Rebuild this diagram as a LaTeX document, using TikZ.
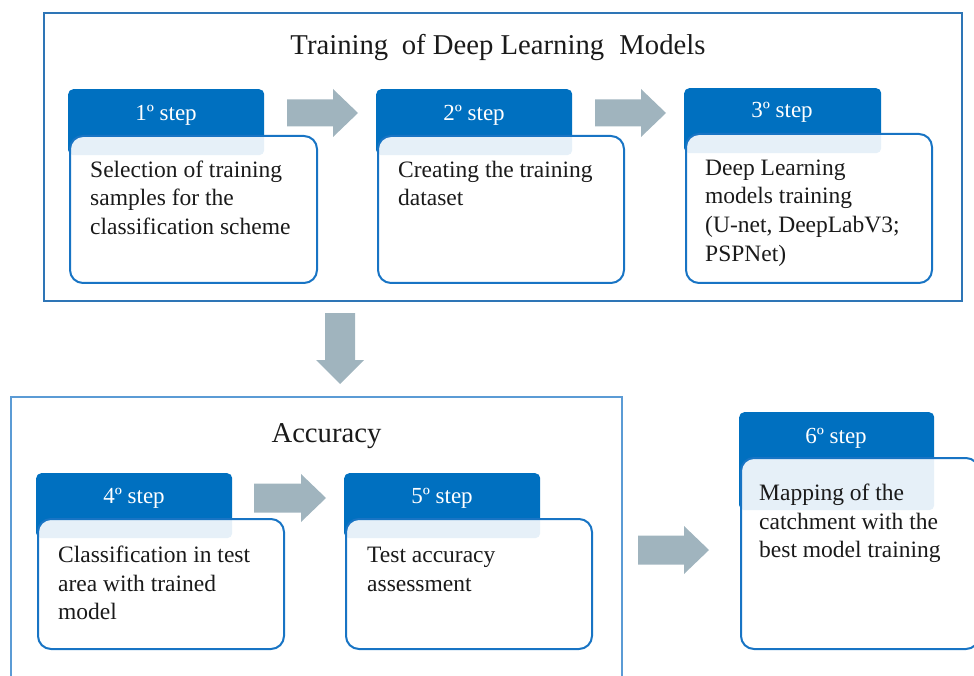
\documentclass[tikz,border=0pt]{standalone}
\usepackage{fontspec}
\setmainfont{Liberation Serif}
\definecolor{hdr}{HTML}{0070C0}
\definecolor{bord}{HTML}{1874C4}
\definecolor{frm}{HTML}{2E75B6}
\definecolor{frm2}{HTML}{5B9BD5}
\definecolor{arr}{HTML}{A0B4BE}
\definecolor{ink}{HTML}{1A1A1A}
\newcommand\rarr[5]{% tailx, y, headbase x, tipx, shafthalf
  \fill[arr] (#1,#2-#5) -- (#3,#2-#5) -- (#3,#2-24) -- (#4,#2) -- (#3,#2+24) -- (#3,#2+#5) -- (#1,#2+#5) -- cycle;}
\tikzset{
  hdrbox/.style={draw=none, fill=hdr, rounded corners=5pt, anchor=north west, inner sep=0pt},
  bodybox/.style={draw=bord, line width=2pt, fill=white, fill opacity=0.9, rounded corners=13pt, anchor=north west, inner sep=0pt},
  hdrtxt/.style={text=white, font=\fontsize{23}{27}\selectfont, anchor=base, inner sep=0pt},
  bodytxt/.style={text=ink, font=\fontsize{23.5}{28.8}\selectfont, anchor=north west, align=left, inner sep=0pt},
  titletxt/.style={text=ink, font=\fontsize{28.7}{34}\selectfont, anchor=base, inner sep=0pt}
}
\begin{document}
\begin{tikzpicture}[x=1pt,y=-1pt]
\useasboundingbox (0,0) rectangle (974,676);
% frames
\draw[frm, line width=1.2pt] (44,13) rectangle (962,301);
\draw[frm2, line width=1.2pt] (11,690) -- (11,397) -- (622,397) -- (622,690);
% titles
\node[titletxt] (title1) at (498,55) {Training\hspace{0.22em} of Deep Learning\hspace{0.28em} Models};
\node[titletxt] (title2) at (326.5,442) {Accuracy};
% step 1
\node[hdrbox, minimum width=196pt, minimum height=66pt] (h1) at (68,89) {};
\node[bodybox, minimum width=247pt, minimum height=147pt] (b1) at (69,135) {};
\node[hdrtxt] (t1) at (166,121) {1º step};
\node[bodytxt] (x1) at (90,160) {\rule{0pt}{17pt}Selection of training\\samples for the\\classification scheme};
% step 2
\node[hdrbox, minimum width=196pt, minimum height=66pt] (h2) at (376,89) {};
\node[bodybox, minimum width=246pt, minimum height=147pt] (b2) at (377,135) {};
\node[hdrtxt] (t2) at (474,121) {2º step};
\node[bodytxt] (x2) at (398,160) {\rule{0pt}{17pt}Creating the training\\dataset};
% step 3
\node[hdrbox, minimum width=197pt, minimum height=65pt] (h3) at (684,88) {};
\node[bodybox, minimum width=246pt, minimum height=149pt] (b3) at (685,133) {};
\node[hdrtxt] (t3) at (782,118) {3º step};
\node[bodytxt] (x3) at (705,158) {\rule{0pt}{17pt}Deep Learning\\models training\\(U-net, DeepLabV3;\\PSPNet)};
% step 4
\node[hdrbox, minimum width=196pt, minimum height=65pt] (h4) at (36,473) {};
\node[bodybox, minimum width=246pt, minimum height=130pt] (b4) at (37,518) {};
\node[hdrtxt] (t4) at (134,503) {4º step};
\node[bodytxt] (x4) at (58,545) {\rule{0pt}{17pt}Classification in test\\area with trained\\model};
% step 5
\node[hdrbox, minimum width=196pt, minimum height=65pt] (h5) at (344,473) {};
\node[bodybox, minimum width=246pt, minimum height=130pt] (b5) at (345,518) {};
\node[hdrtxt] (t5) at (442,503) {5º step};
\node[bodytxt] (x5) at (367,545) {\rule{0pt}{17pt}Test accuracy\\assessment};
% step 6
\node[hdrbox, minimum width=195pt, minimum height=98pt] (h6) at (739,412) {};
\node[bodybox, minimum width=238pt, minimum height=191pt] (b6) at (740,457) {};
\node[hdrtxt] (t6) at (836,443) {6º step};
\node[bodytxt] (x6) at (759,483) {\rule{0pt}{17pt}Mapping of the\\catchment with the\\best model training};
% block arrows
\rarr{287}{113}{333}{358}{13.5}
\rarr{595}{113}{641}{666}{13.5}
\rarr{254}{498}{301}{326}{14.5}
\rarr{638}{550}{684}{709}{14.5}
\fill[arr] (325,313) -- (355,313) -- (355,360) -- (364,360) -- (340,384) -- (316,360) -- (325,360) -- cycle;
\end{tikzpicture}
\end{document}
